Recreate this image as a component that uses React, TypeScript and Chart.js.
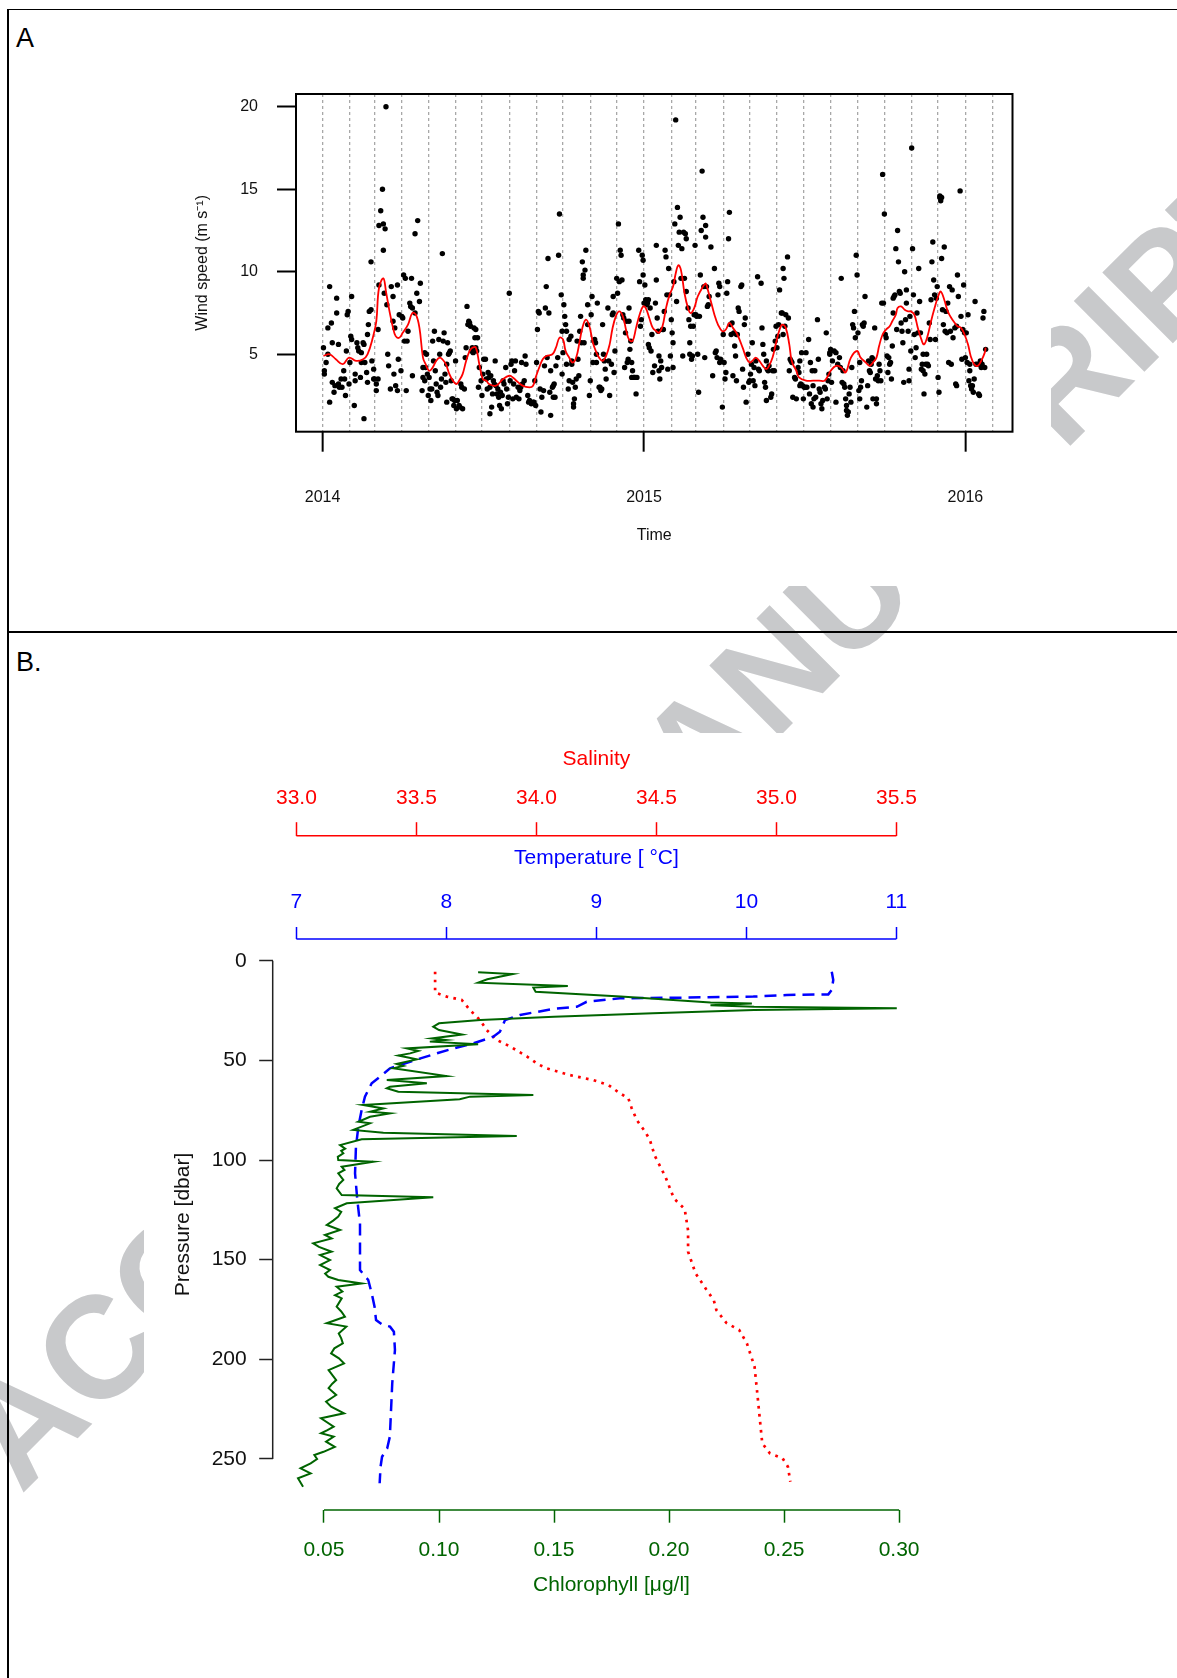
import React, { useEffect, useRef } from 'react';
import { Chart, registerables } from 'chart.js';

Chart.register(...registerables);

const FONT = "'Liberation Sans', Arial, Helvetica, sans-serif";

// ---------------- Panel A: wind speed ----------------
// x values are days since 2014-01-01
const yearTickDays = [0, 365, 730];
const yearTickLabels = ['2014', '2015', '2016'];
const monthStartDays = [0, 31, 59, 90, 120, 151, 181, 212, 243, 273, 304, 334, 365, 396, 424, 455, 485, 516, 546, 577, 608, 638, 669, 699, 730, 761];
const windTicks = [5, 10, 15, 20];

const windObs: [number, number][] = [
  [1,5.4],[4,4.5],[6,5.0],[2,4.0],[2,3.8],[8,9.1],[6,6.6],[10,6.9],[11,5.7],[11,3.3],[13,2.7],[14,3.1],[16,8.4],[16,7.5],[18,5.6],[8,2.1],[18,3.2],[19,3.0],[21,3.5],[22,3.0],[24,4.0],[25,3.5],[26,2.5],[27,5.2],[28,7.4],[29,7.6],[30,3.2],[31,4.5],[33,5.9],[33,8.5],[32,6.1],[36,1.9],[37,3.8],[37,3.4],[39,5.7],[40,5.4],[41,5.2],[43,3.6],[44,4.5],[44,5.1],[46,5.7],[47,5.6],[48,4.5],[50,3.9],[51,3.3],[51,6.2],[52,6.8],[53,7.6],[55,10.6],[55,7.7],[56,4.6],[58,4.1],[58,3.5],[47,1.1],[59,3.5],[61,2.8],[61,3.2],[63,3.5],[63,6.5],[64,12.8],[64,9.2],[66,13.7],[68,15.0],[69,12.9],[69,11.3],[70,8.7],[71,12.6],[72,20.0],[73,8.0],[74,5.0],[75,4.3],[77,2.9],[78,9.1],[80,8.5],[80,7.0],[81,3.8],[82,6.6],[83,3.1],[85,2.8],[85,9.2],[86,4.7],[87,7.4],[89,4.0],[90,7.3],[91,7.2],[92,9.8],[93,5.8],[94,9.6],[95,2.8],[96,5.8],[97,6.4],[99,8.1],[100,7.9],[101,9.6],[102,7.8],[102,3.7],[105,7.5],[105,12.3],[107,8.7],[108,13.1],[110,8.2],[111,9.3],[113,2.8],[114,4.2],[114,3.6],[116,5.1],[116,3.4],[117,4.2],[118,5.0],[119,3.8],[120,2.5],[121,3.6],[122,2.9],[123,2.2],[124,2.9],[125,5.8],[126,4.6],[127,6.4],[128,4.0],[129,3.2],[130,2.7],[131,2.5],[132,5.9],[133,5.0],[134,3.0],[135,3.5],[136,11.1],[137,5.8],[138,6.3],[139,3.8],[140,3.3],[141,4.4],[141,2.1],[142,5.7],[143,5.0],[144,5.1],[145,5.2],[146,3.4],[147,2.3],[148,2.3],[149,1.9],[150,2.2],[151,4.6],[152,1.7],[153,2.2],[155,1.9],[156,1.8],[157,3.2],[158,3.0],[159,1.7],[161,2.9],[162,4.8],[163,5.4],[164,7.9],[165,6.8],[166,7.0],[167,6.9],[168,6.7],[169,5.2],[170,5.4],[171,5.1],[172,6.6],[173,6.0],[174,5.4],
  [174,6.5],[176,6.0],[175,5.2],[178,4.2],[180,3.4],[177,3.0],[181,2.5],[182,3.8],[183,4.7],[185,4.7],[186,3.5],[187,2.9],[188,3.9],[189,3.6],[190,3.0],[190,1.4],[191,3.7],[192,1.8],[193,2.6],[194,3.4],[195,3.2],[196,4.6],[197,3.1],[198,2.6],[199,2.9],[200,2.4],[201,1.9],[202,2.7],[203,1.7],[204,2.5],[205,3.4],[206,3.2],[208,4.2],[209,2.9],[210,2.0],[211,2.4],[212,8.7],[213,3.4],[214,4.4],[215,4.6],[216,2.3],[217,3.2],[218,4.0],[219,4.6],[220,2.4],[222,3.0],[223,2.3],[224,2.8],[225,3.0],[226,4.5],[227,3.2],[229,3.4],[230,4.9],[231,4.4],[233,2.5],[234,2.1],[235,2.2],[237,2.0],[239,2.1],[240,2.1],[241,3.4],[242,1.9],[243,4.5],[244,6.5],[245,7.6],[246,7.5],[247,2.9],[248,1.5],[249,2.4],[251,2.8],[252,4.3],[253,7.8],[254,9.1],[255,4.8],[256,10.8],[257,7.5],[258,2.7],[259,1.3],[259,4.0],[261,3.0],[262,2.4],[262,3.1],[263,3.2],[264,2.4],[265,4.3],[267,4.8],[268,11.0],[269,13.5],[271,8.6],[272,6.4],[272,3.8],[273,5.1],[274,8.0],[275,7.3],[276,6.8],[277,6.4],[277,4.4],[279,2.9],[280,5.9],[280,3.4],[282,6.1],[283,4.6],[283,4.4],[284,3.3],[285,2.0],[285,1.8],[286,2.3],[287,3.0],[288,3.5],[289,5.8],[290,4.7],[291,3.7],[292,6.4],[293,7.3],[294,5.7],[295,10.6],[296,9.6],[296,9.8],[297,5.7],[298,10.1],[299,11.3],[301,8.0],[301,6.8],[303,2.5],[304,3.4],[305,7.4],[306,8.5],[307,4.5],[308,5.8],[309,5.9],[310,5.7],[311,4.5],[311,5.0],[312,8.1],[314,3.0],[315,3.0],[316,2.8],[317,2.9],[318,6.8],[319,5.0],[320,4.6],[321,4.1],[322,3.5],[324,7.8],[325,4.6],[326,2.5],[328,4.4],[329,7.4],[330,7.5],[330,8.5],[331,3.9],[332,5.2],[334,9.6],[335,8.7],[336,12.9],[337,9.4],[338,11.3],[339,11.0],[340,9.5],[341,7.4],[342,7.2],[343,4.2],[344,6.3],[345,7.0],[346,4.5],[347,4.7],[348,7.0],[348,7.8],[349,5.3],[350,5.8],[351,4.5],[351,3.6],[352,4.0],[353,3.6],[354,3.6],[355,3.6],[356,2.6],[357,3.6],[359,11.3],[360,9.4],[361,6.7],[362,7.1],[363,11.0],[364,9.8],[364,10.7],[365,8.1],[366,9.2],[367,8.3],[368,8.0],[369,8.1],[370,8.3],[370,5.6],[371,5.4],[372,7.8],[373,5.2],[374,6.2],[375,3.9],[377,4.3],[378,8.1],
  [379,11.6],[379,9.5],[380,7.2],[381,6.4],[382,4.9],[382,4.0],[383,3.5],[384,4.6],[385,4.2],[386,6.5],[387,6.5],[388,7.6],[389,11.3],[390,10.9],[391,8.6],[392,4.1],[393,10.2],[394,8.6],[395,4.9],[396,7.1],[397,6.3],[398,5.7],[398,4.2],[399,9.4],[400,12.9],[401,19.2],[402,8.2],[403,13.9],[404,11.6],[405,12.4],[406,13.3],[407,9.6],[408,11.4],[409,4.9],[410,12.4],[411,9.6],[412,12.3],[413,12.0],[413,8.8],[415,7.8],[416,7.1],[417,5.7],[417,5.0],[418,6.7],[419,4.7],[420,4.9],[421,6.7],[422,7.4],[423,11.6],[424,7.4],[425,7.3],[426,5.0],[427,2.7],[428,7.3],[429,9.8],[430,12.5],[431,16.1],[432,13.3],[433,9.1],[434,4.8],[435,12.8],[435,12.1],[436,9.1],[437,7.9],[438,8.0],[439,8.5],[441,11.5],[443,3.7],[445,10.2],[446,5.1],[447,5.2],[448,4.8],[449,8.6],[450,9.3],[451,4.5],[451,9.1],[452,4.7],[454,1.8],[455,6.2],[456,4.5],[457,3.5],[458,3.9],[459,8.7],[460,9.4],[461,12.0],[462,13.6],[463,6.8],[464,6.2],[465,6.9],[466,3.7],[467,6.3],[468,5.5],[469,4.9],[470,6.2],[470,3.4],[471,6.2],[472,7.8],[473,7.6],[475,9.1],[476,9.2],[477,4.1],[478,3.0],[479,6.8],[480,7.2],[481,2.1],[483,5.0],[484,3.3],[485,3.4],[486,3.8],[487,4.4],[488,5.7],[489,3.4],[490,4.2],[491,3.1],[492,4.6],[494,9.7],[495,4.1],[496,4.0],[498,9.3],[499,6.6],[500,5.6],[501,5.0],[502,3.3],[503,3.0],[504,2.2],[504,4.6],[505,4.1],[506,4.0],[507,4.3],[509,2.4],[510,2.6],[511,4.0],[512,5.3],[513,4.0],[514,5.8],[515,6.7],[516,5.4],[517,6.1],[518,6.8],[519,8.9],[521,7.5],[522,7.5],[523,6.2],[523,10.2],[524,9.6],[525,6.7],[526,7.4],[528,10.9],[529,7.2],[530,4.0],[531,4.7],[532,4.6],[533,4.5],[534,2.4],[536,3.6],[537,3.5],[538,2.3],[540,4.2],[541,3.9],[542,3.1],[542,4.6],[543,3.2],[544,5.1],[545,3.1],[546,2.3],[547,3.0],[548,3.0],[549,5.1],[550,3.0],[552,5.9],[553,2.6],[554,4.5],[555,2.0],[556,4.0],[557,1.8],[557,3.1],[558,2.3],[559,4.0],[560,2.4],[562,7.1],[563,4.7],[564,2.9],[565,2.7],[566,2.0],[567,1.7],[568,2.2],[570,3.0],[571,2.9],[572,6.3],[573,2.3],[574,3.4],[575,3.8],[576,5.0],[576,5.1],[577,5.3],[578,3.3],[579,4.6],[581,5.2],[583,2.1],
  [583,5.1],[585,4.4],[587,4.8],[588,4.2],[589,9.6],[590,3.3],[591,4.0],[592,3.2],[593,3.0],[594,2.3],[595,1.9],[595,1.6],[596,1.3],[597,1.5],[598,2.6],[599,3.0],[600,2.1],[601,4.2],[602,6.8],[603,6.6],[604,7.6],[605,6.0],[606,11.0],[607,9.8],[608,6.3],[609,2.8],[610,2.3],[610,4.5],[611,3.0],[612,3.4],[613,6.8],[614,6.7],[615,6.9],[616,8.5],[618,1.8],[619,3.1],[620,4.6],[621,4.0],[622,3.9],[623,4.4],[624,4.8],[625,4.7],[625,2.3],[627,6.6],[628,3.5],[629,2.3],[629,2.0],[630,3.7],[631,3.4],[632,4.4],[633,4.0],[634,3.4],[635,8.1],[636,15.9],[637,8.1],[638,13.5],[639,6.2],[640,6.0],[641,4.9],[642,3.9],[643,4.8],[644,4.4],[645,4.5],[646,3.5],[647,5.5],[648,7.5],[648,8.4],[649,8.5],[650,8.6],[651,11.4],[652,6.5],[653,12.5],[654,10.6],[655,8.8],[656,8.7],[657,6.9],[658,6.4],[659,5.7],[660,3.3],[661,10.0],[662,7.1],[663,8.9],[663,8.1],[665,6.4],[666,4.1],[666,3.4],[667,7.3],[668,5.2],[669,17.5],[670,11.4],[671,8.6],[672,6.2],[673,4.8],[674,5.4],[675,7.5],[676,6.3],[677,10.2],[678,8.2],[679,6.3],[680,4.1],[681,4.4],[682,4.0],[682,5.0],[683,2.6],[684,3.8],[685,4.4],[686,5.0],[687,4.4],[688,4.3],[689,6.9],[690,5.9],[691,8.3],[692,10.6],[693,11.8],[694,9.5],[695,8.6],[696,5.9],[697,8.4],[698,9.1],[699,3.6],[700,2.7],[701,14.6],[701,14.5],[702,14.3],[703,14.5],[703,10.8],[704,7.7],[705,6.8],[706,11.5],[707,6.4],[708,7.6],[709,6.3],[710,8.1],[711,4.5],[712,9.1],[713,6.4],[714,4.4],[715,8.9],[716,6.0],[718,6.6],[719,3.2],[720,3.1],[720,6.7],[721,9.8],[722,8.5],[724,14.9],[725,7.3],[726,4.7],[727,6.5],[728,9.2],[729,6.3],[730,4.8],[731,6.3],[732,4.5],[733,7.4],[734,3.4],[735,4.0],[735,4.4],[736,3.1],[737,2.9],[738,3.1],[739,2.7],[740,3.5],[741,8.2],[742,4.4],[744,4.4],[745,2.6],[746,2.5],[747,4.6],[748,4.2],[749,4.4],[750,7.2],[751,7.6],[752,4.2],[753,5.3],
];

const windSmooth: [number, number][] = [
  [1,4.9],[8,5.0],[15,4.7],[23,4.4],[30,4.8],[38,4.6],[46,4.7],[51,5.0],[57,6.0],[61,7.0],[64,9.0],[69,9.6],[72,8.8],[76,7.6],[80,6.6],[83,6.1],[87,6.0],[91,6.3],[97,6.8],[102,7.5],[106,7.4],[110,6.6],[114,4.8],[117,4.4],[121,4.0],[125,4.2],[129,4.6],[133,4.8],[136,4.7],[140,4.4],[144,3.8],[148,3.4],[152,3.2],[155,3.4],[159,3.8],[163,4.6],[167,5.2],[170,5.4],[174,5.4],[178,4.4],[182,3.5],[186,3.4],[189,3.2],[197,3.1],[205,3.5],[212,3.7],[216,3.6],[220,3.4],[227,3.1],[235,3.0],[239,3.1],[242,3.6],[246,4.2],[250,4.7],[254,4.9],[261,5.0],[265,5.4],[269,6.0],[273,5.9],[276,5.2],[280,4.8],[284,4.5],[288,4.8],[292,5.8],[295,6.6],[299,7.1],[303,6.7],[307,5.7],[311,5.1],[314,4.8],[318,4.6],[322,4.9],[326,5.6],[329,6.5],[333,7.3],[337,7.6],[341,7.3],[345,6.4],[348,5.9],[352,5.8],[356,6.6],[360,7.4],[364,7.9],[367,7.8],[371,7.2],[375,6.6],[379,6.4],[382,6.3],[386,6.7],[390,7.8],[394,8.6],[398,9.1],[401,9.9],[404,10.4],[407,10.1],[411,8.7],[415,7.8],[418,7.5],[422,7.8],[426,8.5],[432,9.1],[435,9.3],[437,9.0],[441,8.2],[445,7.4],[449,6.8],[454,6.4],[458,6.5],[462,6.9],[466,6.6],[471,6.2],[477,5.4],[481,4.8],[485,4.5],[488,4.6],[492,4.8],[496,4.6],[500,4.3],[504,4.1],[507,4.3],[511,4.8],[515,5.7],[519,6.5],[522,6.8],[526,6.6],[530,5.6],[532,4.8],[534,4.4],[538,4.0],[541,3.6],[549,3.4],[557,3.4],[564,3.4],[570,3.4],[574,3.7],[577,4.0],[583,4.3],[589,4.2],[594,3.9],[600,4.8],[607,5.2],[611,4.8],[617,4.5],[621,4.3],[625,4.5],[629,4.8],[632,5.5],[636,6.2],[640,6.5],[644,6.7],[647,7.0],[651,7.4],[653,7.8],[657,7.9],[661,7.7],[665,7.6],[668,7.6],[672,7.4],[676,6.6],[680,5.9],[683,5.6],[687,6.1],[691,7.0],[695,7.8],[699,8.5],[702,8.8],[706,8.3],[710,7.6],[714,7.2],[718,6.9],[721,6.7],[725,6.6],[729,6.2],[733,5.6],[736,4.9],[740,4.4],[744,4.3],[748,4.6],[752,5.1],[753,5.4],
];

// ---------------- Panel B: CTD profile ----------------
const pressureTicks = [0, 50, 100, 150, 200, 250];
const salinityTicks = [33.0, 33.5, 34.0, 34.5, 35.0, 35.5];
const temperatureTicks = [7, 8, 9, 10, 11];
const chlorophyllTicks = [0.05, 0.10, 0.15, 0.20, 0.25, 0.30];

// [value, pressure]
const salinityProfile: [number, number][] = [
  [33.578,5.5],[33.578,16.0],[33.626,18.0],[33.689,19.7],[33.723,24.7],[33.765,29.8],[33.793,34.8],[33.835,39.8],[33.890,43.0],[33.960,48.0],[34.008,52.0],[34.043,54.0],[34.140,57.4],[34.237,59.9],[34.300,62.4],[34.348,66.5],[34.383,69.0],[34.397,74.0],[34.418,79.9],[34.453,85.8],[34.473,90.0],[34.493,97.8],[34.538,108.5],[34.573,119.3],[34.618,124.6],[34.632,135.4],[34.632,146.0],[34.663,156.8],[34.708,165.0],[34.739,170.3],[34.750,175.3],[34.792,181.8],[34.845,185.3],[34.877,192.0],[34.909,203.7],[34.919,215.4],[34.930,228.8],[34.941,242.1],[34.973,247.2],[35.026,249.7],[35.048,253.9],[35.058,261.4],
];
const temperatureProfile: [number, number][] = [
  [10.569,5.5],[10.579,9.7],[10.569,14.7],[10.546,16.9],[10.269,17.2],[10.046,18.0],[9.602,18.5],[9.157,18.9],[8.935,20.6],[8.869,23.1],[8.713,24.2],[8.491,27.2],[8.391,29.8],[8.357,35.6],[8.313,38.1],[8.179,41.5],[8.046,44.0],[7.935,46.5],[7.811,49.4],[7.624,54.0],[7.557,58.2],[7.502,61.5],[7.457,68.2],[7.435,74.9],[7.413,83.3],[7.397,93.3],[7.391,106.7],[7.406,120.0],[7.424,131.8],[7.424,155.2],[7.479,160.2],[7.502,166.9],[7.521,173.6],[7.531,180.3],[7.571,182.5],[7.624,183.6],[7.650,186.2],[7.657,195.3],[7.639,212.0],[7.629,228.8],[7.623,238.8],[7.605,244.7],[7.571,248.9],[7.561,253.9],[7.555,262.2],
];
const chlorophyllProfile: [number, number][] = [
  [0.117,5.8],[0.132,6.7],[0.121,9.3],[0.117,11.0],[0.156,12.7],[0.141,13.5],[0.142,15.6],[0.179,18.0],[0.218,21.0],[0.236,21.5],[0.218,22.3],[0.237,23.1],[0.299,23.9],[0.237,24.7],[0.193,26.4],[0.150,28.1],[0.118,29.8],[0.100,31.4],[0.0975,33.1],[0.100,34.8],[0.110,37.0],[0.0968,39.0],[0.103,39.8],[0.096,40.6],[0.117,41.9],[0.086,44.0],[0.091,45.3],[0.0874,46.5],[0.0823,47.6],[0.0903,49.5],[0.0816,51.8],[0.0845,52.8],[0.0801,54.0],[0.1033,57.9],[0.0773,59.9],[0.0947,61.5],[0.0787,63.2],[0.0773,64.0],[0.0823,65.7],[0.141,67.4],[0.1135,68.2],[0.109,69.5],[0.0671,72.4],[0.0758,74.1],[0.0700,75.8],[0.0787,76.6],[0.0700,78.3],[0.0649,80.8],[0.0700,81.6],[0.0627,84.9],[0.0758,86.3],[0.1338,88.0],[0.0664,89.6],[0.0570,92.5],[0.0592,94.3],[0.0575,95.4],[0.0584,96.6],[0.0560,98.4],[0.0562,100.0],[0.0714,100.9],[0.0577,103.4],[0.0589,105.0],[0.0562,106.7],[0.0584,110.0],[0.0566,112.0],[0.0555,114.2],[0.0577,117.6],[0.0975,118.7],[0.0599,121.7],[0.0548,124.2],[0.0575,126.0],[0.0562,128.4],[0.0540,130.4],[0.0512,132.6],[0.0570,135.1],[0.0504,137.6],[0.0533,139.3],[0.0453,141.8],[0.0478,143.6],[0.0533,146.0],[0.0483,147.7],[0.0526,150.2],[0.0483,152.7],[0.0526,155.2],[0.0505,157.0],[0.0519,158.6],[0.0562,160.2],[0.0664,161.9],[0.0555,163.6],[0.0580,166.0],[0.0548,167.8],[0.0577,169.4],[0.0555,173.6],[0.0575,176.0],[0.0591,178.6],[0.0512,181.9],[0.0597,183.6],[0.0564,187.0],[0.0575,189.5],[0.0582,192.0],[0.0545,194.5],[0.0531,197.0],[0.0565,199.5],[0.0587,202.0],[0.0520,205.4],[0.0553,210.4],[0.0536,212.2],[0.0520,214.5],[0.0553,217.9],[0.0509,221.2],[0.0531,223.8],[0.0587,227.1],[0.0487,229.6],[0.0542,233.8],[0.0515,235.5],[0.0487,237.1],[0.0542,238.8],[0.0509,241.3],[0.0547,243.9],[0.0498,246.4],[0.0458,248.0],[0.0470,250.0],[0.0442,252.2],[0.0398,254.7],[0.0442,257.2],[0.0387,259.7],[0.0409,263.9],
];

type AxisSpec = { id: string; color: string; width: number; title?: string; titleOffset?: number; titleFont?: string };

function rAxisPlugin(pid: string, specs: AxisSpec[], boxWidth: number) {
  return {
    id: pid,
    afterDraw(chart: any) {
      const ctx = chart.ctx;
      if (boxWidth > 0) {
        const a = chart.chartArea;
        ctx.save();
        ctx.strokeStyle = '#000';
        ctx.lineWidth = boxWidth;
        ctx.strokeRect(a.left, a.top, a.right - a.left, a.bottom - a.top);
        ctx.restore();
      }
      for (const sp of specs) {
        const s = chart.scales[sp.id];
        if (!s || !s.ticks || !s.ticks.length) continue;
        const p0 = s.getPixelForValue(s.ticks[0].value);
        const p1 = s.getPixelForValue(s.ticks[s.ticks.length - 1].value);
        ctx.save();
        ctx.strokeStyle = sp.color;
        ctx.lineWidth = sp.width;
        ctx.beginPath();
        let base: number;
        if (s.isHorizontal()) {
          base = s.position === 'top' ? s.bottom : s.top;
          ctx.moveTo(p0, base);
          ctx.lineTo(p1, base);
        } else {
          base = s.position === 'left' ? s.right : s.left;
          ctx.moveTo(base, p0);
          ctx.lineTo(base, p1);
        }
        ctx.stroke();
        if (sp.title) {
          ctx.fillStyle = sp.color;
          ctx.font = sp.titleFont || `21px ${FONT}`;
          ctx.textAlign = 'center';
          ctx.textBaseline = 'middle';
          ctx.fillText(sp.title, (p0 + p1) / 2, base + (sp.titleOffset || 0));
        }
        ctx.restore();
      }
    },
  };
}

function WindChart() {
  const ref = useRef<HTMLCanvasElement | null>(null);
  useEffect(() => {
    if (!ref.current) return;
    const chart = new Chart(ref.current, {
      type: 'scatter',
      data: {
        datasets: [
          {
            label: 'smooth',
            data: windSmooth.map(([d, v]) => ({ x: d, y: v })),
            showLine: true,
            borderColor: '#ff0000',
            borderWidth: 1.8,
            pointRadius: 0,
            tension: 0.4,
            fill: false,
            order: 0,
          } as any,
          {
            label: 'wind',
            data: windObs.map(([d, v]) => ({ x: d, y: v })),
            backgroundColor: '#000',
            borderWidth: 0,
            pointRadius: 2.7,
            order: 1,
          } as any,
        ],
      },
      options: {
        responsive: false,
        animation: false,
        events: [],
        layout: { padding: { left: 0, top: 44, right: 38.5, bottom: 0 } },
        plugins: { legend: { display: false }, tooltip: { enabled: false } },
        scales: {
          x: {
            type: 'linear',
            position: 'bottom',
            min: -30.2,
            max: 783.5,
            afterBuildTicks: (s: any) => { s.ticks = monthStartDays.map((v) => ({ value: v })); },
            afterFit: (s: any) => { s.height = 154.3; },
            ticks: {
              autoSkip: false,
              maxRotation: 0,
              minRotation: 0,
              padding: 36,
              color: '#111',
              font: { size: 16, family: FONT },
              callback: (v: any) => {
                const i = yearTickDays.indexOf(Number(v));
                return i >= 0 ? yearTickLabels[i] : '';
              },
            },
            grid: {
              display: true,
              drawOnChartArea: true,
              drawTicks: true,
              tickLength: 20,
              color: '#a8a8a8',
              lineWidth: 1.3,
              tickWidth: 2,
              tickColor: (c: any) => (c.tick && yearTickDays.includes(c.tick.value) ? '#000' : 'rgba(0,0,0,0)'),
            },
            border: { display: false, dash: [3, 3] },
            title: { display: true, text: 'Time', color: '#111', font: { size: 16, family: FONT }, padding: { top: 0, bottom: 40.4 } },
          },
          y: {
            type: 'linear',
            position: 'left',
            min: 0.31,
            max: 20.77,
            afterBuildTicks: (s: any) => { s.ticks = windTicks.map((v) => ({ value: v })); },
            afterFit: (s: any) => { s.width = 196; },
            ticks: { padding: 19, color: '#111', font: { size: 16, family: FONT }, callback: (v: any) => String(v) },
            grid: { drawOnChartArea: false, drawTicks: true, tickLength: 19, tickColor: '#000', tickWidth: 2 },
            border: { display: false },
            title: { display: true, text: 'Wind speed (m s\u207B\u00B9)', color: '#111', font: { size: 16, family: FONT }, padding: { top: 93.4, bottom: 0 } },
          },
        },
      } as any,
      plugins: [rAxisPlugin('boxA', [], 2)],
    });
    return () => chart.destroy();
  }, []);
  return <canvas ref={ref} width={951} height={536} style={{ position: 'absolute', left: 100, top: 50, width: 951, height: 536, background: '#fff', zIndex: 1 }} />;
}

function ProfileChart() {
  const ref = useRef<HTMLCanvasElement | null>(null);
  useEffect(() => {
    if (!ref.current) return;
    const green = '#006400';
    const chart = new Chart(ref.current, {
      type: 'scatter',
      data: {
        datasets: [
          {
            label: 'Chlorophyll',
            data: chlorophyllProfile.map(([v, p]) => ({ x: v, y: p })),
            xAxisID: 'xChl',
            yAxisID: 'y',
            showLine: true,
            borderColor: green,
            borderWidth: 2,
            pointRadius: 0,
            tension: 0,
            fill: false,
          } as any,
          {
            label: 'Temperature',
            data: temperatureProfile.map(([v, p]) => ({ x: v, y: p })),
            xAxisID: 'xTemp',
            yAxisID: 'y',
            showLine: true,
            borderColor: '#0000ff',
            borderWidth: 2.5,
            borderDash: [12, 7],
            pointRadius: 0,
            tension: 0,
            fill: false,
          } as any,
          {
            label: 'Salinity',
            data: salinityProfile.map(([v, p]) => ({ x: v, y: p })),
            xAxisID: 'xSal',
            yAxisID: 'y',
            showLine: true,
            borderColor: '#ff0000',
            borderWidth: 2.7,
            borderDash: [2.7, 5.3],
            pointRadius: 0,
            tension: 0,
            fill: false,
          } as any,
        ],
      },
      options: {
        responsive: false,
        animation: false,
        events: [],
        layout: { padding: { left: 0, top: 0, right: 100, bottom: 0 } },
        plugins: { legend: { display: false }, tooltip: { enabled: false } },
        scales: {
          y: {
            type: 'linear',
            position: 'left',
            reverse: true,
            min: -10.89,
            max: 275.6,
            afterBuildTicks: (s: any) => { s.ticks = pressureTicks.map((v) => ({ value: v })); },
            afterFit: (s: any) => { s.width = 128.7; },
            ticks: { padding: 12.5, color: '#111', font: { size: 21, family: FONT }, callback: (v: any) => String(v) },
            grid: { drawOnChartArea: false, drawTicks: true, tickLength: 13.5, tickColor: '#222', tickWidth: 1.5 },
            border: { display: false },
            title: { display: true, text: 'Pressure [dbar]', color: '#111', font: { size: 21, family: FONT }, padding: { top: 26.4, bottom: 0 } },
          },
          xChl: {
            type: 'linear',
            position: 'bottom',
            min: 0.0277,
            max: 0.3004,
            afterBuildTicks: (s: any) => { s.ticks = chlorophyllTicks.map((v) => ({ value: v })); },
            afterFit: (s: any) => { s.height = 143; },
            ticks: { autoSkip: false, maxRotation: 0, minRotation: 0, padding: 14.7, color: green, font: { size: 21, family: FONT }, callback: (v: any) => Number(v).toFixed(2) },
            grid: { drawOnChartArea: false, drawTicks: true, tickLength: 12.7, tickColor: green, tickWidth: 1.5 },
            border: { display: false },
          },
          xTemp: {
            type: 'linear',
            position: 'top',
            weight: 1,
            min: 6.842,
            max: 11.024,
            afterBuildTicks: (s: any) => { s.ticks = temperatureTicks.map((v) => ({ value: v })); },
            afterFit: (s: any) => { s.height = 103.3; },
            ticks: { autoSkip: false, maxRotation: 0, minRotation: 0, padding: 12.4, color: '#0000ff', font: { size: 21, family: FONT }, callback: (v: any) => String(v) },
            grid: { drawOnChartArea: false, drawTicks: true, tickLength: 12, tickColor: '#0000ff', tickWidth: 1.5 },
            border: { display: false },
          },
          xSal: {
            type: 'linear',
            position: 'top',
            weight: 2,
            min: 32.9013,
            max: 35.515,
            afterBuildTicks: (s: any) => { s.ticks = salinityTicks.map((v) => ({ value: v })); },
            afterFit: (s: any) => { s.height = 102.7; },
            ticks: { autoSkip: false, maxRotation: 0, minRotation: 0, padding: 11.6, color: '#ff0000', font: { size: 21, family: FONT }, callback: (v: any) => Number(v).toFixed(1) },
            grid: { drawOnChartArea: false, drawTicks: true, tickLength: 13.5, tickColor: '#ff0000', tickWidth: 1.5 },
            border: { display: false },
          },
        },
      } as any,
      plugins: [
        rAxisPlugin('axesB', [
          { id: 'y', color: '#222', width: 1.5 },
          { id: 'xSal', color: '#ff0000', width: 1.5, title: 'Salinity', titleOffset: -76.7 },
          { id: 'xTemp', color: '#0000ff', width: 1.5, title: 'Temperature [ \u00B0C]', titleOffset: -81 },
          { id: 'xChl', color: green, width: 1.5, title: 'Chlorophyll [\u03BCg/l]', titleOffset: 75 },
        ], 0),
      ],
    });
    return () => chart.destroy();
  }, []);
  return <canvas ref={ref} width={856} height={920} style={{ position: 'absolute', left: 144, top: 733, width: 856, height: 920, background: '#fff', zIndex: 1 }} />;
}

export default function App() {
  return (
    <div style={{ position: 'absolute', left: 0, top: 0, width: 1177, height: 1678, background: '#fff', overflow: 'hidden', fontFamily: FONT }}>
      <div
        style={{
          position: 'absolute',
          left: 624,
          top: 822,
          transform: 'translate(-50%, -50%) rotate(-45deg)',
          fontSize: 145,
          lineHeight: 1,
          fontWeight: 'bold',
          color: '#c8c9cb',
          whiteSpace: 'nowrap',
          zIndex: 0,
        }}
      >
        ACCEPTED MANUSCRIPT
      </div>
      <WindChart />
      <ProfileChart />
      <div style={{ position: 'absolute', left: 7, top: 8.5, width: 1170, height: 1.5, background: '#000', zIndex: 2 }} />
      <div style={{ position: 'absolute', left: 7, top: 8.5, width: 1.5, height: 1670, background: '#000', zIndex: 2 }} />
      <div style={{ position: 'absolute', left: 7, top: 631, width: 1170, height: 1.5, background: '#000', zIndex: 2 }} />
      <div style={{ position: 'absolute', left: 16, top: 25, fontSize: 27, lineHeight: 1, color: '#000', zIndex: 2 }}>A</div>
      <div style={{ position: 'absolute', left: 16, top: 649, fontSize: 27, lineHeight: 1, color: '#000', zIndex: 2 }}>B.</div>
    </div>
  );
}
